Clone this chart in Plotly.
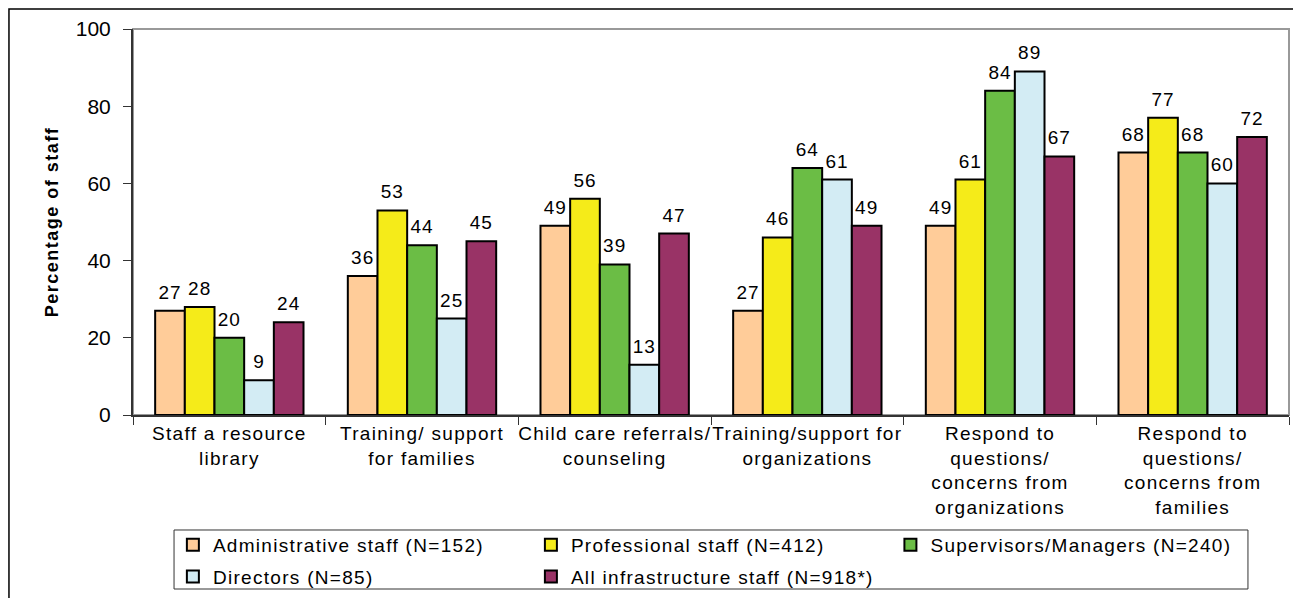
import plotly.graph_objects as go

categories = [
    "Staff a resource|library",
    "Training/ support|for families",
    "Child care referrals/|counseling",
    "Training/support for|organizations",
    "Respond to|questions/|concerns from|organizations",
    "Respond to|questions/|concerns from|families",
]
series_names = [
    "Administrative staff (N=152)",
    "Professional staff (N=412)",
    "Supervisors/Managers (N=240)",
    "Directors (N=85)",
    "All infrastructure staff (N=918*)",
]
admin = [27, 36, 49, 27, 49, 68]
professional = [28, 53, 56, 46, 61, 77]
supervisors = [20, 44, 39, 64, 84, 68]
directors = [9, 25, 13, 61, 89, 60]
all_staff = [24, 45, 47, 49, 67, 72]
y_ticks = [0, 20, 40, 60, 80, 100]

colors = ["#FFCC99", "#F5EB19", "#6BBD45", "#D3ECF4", "#993366"]
legend_ids = ["legend", "legend2", "legend3", "legend", "legend2"]
FONT = "Liberation Sans"


def sp(t, ls=1.2):
    return '<span style="letter-spacing:%spx">%s</span>' % (ls, t)


x_labels = ["<br>".join(sp(p, 1.3) for p in c.split("|")) for c in categories]

fig = go.Figure()
all_vals = [admin, professional, supervisors, directors, all_staff]
for i, (name, vals, col) in enumerate(zip(series_names, all_vals, colors)):
    fig.add_trace(go.Bar(
        name=sp(name, 1.3), x=x_labels, y=vals, offsetgroup=str(i),
        legend=legend_ids[i], legendgroup=str(i),
        marker=dict(color=col, line=dict(color="black", width=2)),
        hoverinfo="y",
    ))
for i, vals in enumerate(all_vals):
    fig.add_trace(go.Scatter(
        x=x_labels, y=vals, offsetgroup=str(i), mode="markers+text",
        text=[sp(str(v), 1.0) for v in vals], textposition="top center",
        textfont=dict(family=FONT, size=19, color="black"),
        marker=dict(size=10, opacity=0), showlegend=False, cliponaxis=False,
        hoverinfo="skip",
    ))

legend_common = dict(
    orientation="v", xanchor="left", y=-0.2876, yanchor="top",
    bgcolor="rgba(0,0,0,0)", borderwidth=0,
    font=dict(family=FONT, size=19, color="black"), tracegroupgap=4,
)

fig.update_layout(
    width=1285, height=590,
    margin=dict(l=125, r=4, t=21, b=183, autoexpand=False),
    paper_bgcolor="white", plot_bgcolor="white",
    font=dict(family=FONT, color="black"),
    barmode="group", bargap=0.23, bargroupgap=0,
    scattermode="group", scattergap=0.23,
    showlegend=True,
    legend=dict(x=0.0345, **legend_common),
    legend2=dict(x=0.3442, **legend_common),
    legend3=dict(x=0.6552, **legend_common),
    xaxis=dict(
        type="category", showline=True, linecolor="#333333", linewidth=2,
        ticks="outside", ticklen=8, tickcolor="#333333", tickwidth=1,
        tickson="boundaries", showgrid=False, tickangle=0, automargin=False,
        tickfont=dict(family=FONT, size=19, color="black"),
    ),
    yaxis=dict(
        range=[0, 100], tickvals=y_ticks, showline=True, linecolor="#333333", linewidth=2,
        ticks="outside", ticklen=8, tickcolor="#333333", tickwidth=1,
        ticklabelstandoff=8,
        showgrid=False, zeroline=False, automargin=False,
        tickfont=dict(family=FONT, size=21, color="black"),
        title=dict(text=sp("<b>Percentage of staff</b>", 1.5),
                   font=dict(family=FONT, size=18, color="black"), standoff=12),
    ),
    shapes=[
        dict(type="rect", xref="paper", yref="paper", x0=0, x1=1, y0=0, y1=1,
             line=dict(color="#999999", width=2), layer="below"),
        dict(type="rect", xref="paper", yref="paper", x0=-0.1073, x1=1.2,
             y0=-1.0, y1=1.0518, line=dict(color="black", width=1.5), layer="below"),
        dict(type="rect", xref="paper", yref="paper", x0=0.0355, x1=0.9645,
             y0=-0.4508, y1=-0.2979, line=dict(color="#333333", width=1),
             fillcolor="white", layer="below"),
    ],
)

fig.write_html("out.html")
